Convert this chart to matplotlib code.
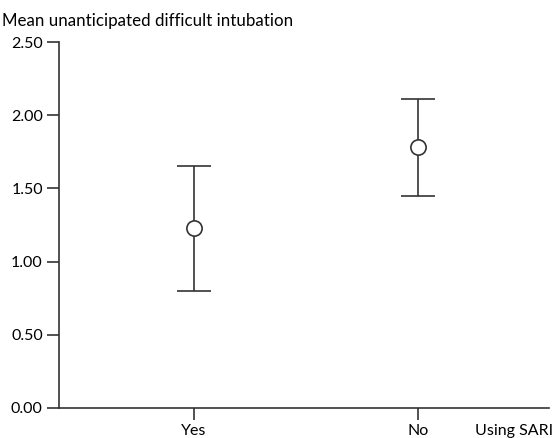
import matplotlib
matplotlib.use("Agg")
import matplotlib.pyplot as plt

categories = ["Yes", "No"]
means = [1.23, 1.78]
lower = [0.80, 1.45]
upper = [1.65, 2.11]
yticks = [0.0, 0.5, 1.0, 1.5, 2.0, 2.5]
ylabel = "Mean unanticipated difficult intubation"
xlabel = "Using SARI"

plt.rcParams['font.family'] = ['Lato', 'DejaVu Sans']
col = '#333333'

fig = plt.figure(figsize=(5.55, 4.38), dpi=100)
ax = fig.add_axes([0.106, 0.0685, 0.884, 0.8355])

x = list(range(len(categories)))
yerr = [[m - l for m, l in zip(means, lower)], [u - m for m, u in zip(means, upper)]]
ax.errorbar(x, means, yerr=yerr, fmt='o', color=col, ecolor=col, elinewidth=1.2,
            capsize=12, capthick=1.2, markersize=11, markerfacecolor='white',
            markeredgecolor=col, markeredgewidth=1.2, zorder=3)

ax.set_xlim(-0.603, 1.585)
ax.set_ylim(0, 2.5)
ax.set_xticks(x)
ax.set_xticklabels(categories)
ax.set_yticks(yticks)
ax.set_yticklabels([f"{v:.2f}" for v in yticks])
for s in ['top', 'right']:
    ax.spines[s].set_visible(False)
for s in ['left', 'bottom']:
    ax.spines[s].set_color(col)
    ax.spines[s].set_linewidth(1.2)
ax.tick_params(axis='both', colors=col, labelcolor='black', labelsize=11.5, length=8.5, width=1.2, pad=3)
ax.tick_params(axis='x', pad=3)

fig.text(0.004, 0.952, ylabel, fontsize=12.2, ha='left', va='center')
fig.text(0.997, 0.0, xlabel, fontsize=11.5, ha='right', va='bottom')

fig.savefig("out.png", dpi=100)
